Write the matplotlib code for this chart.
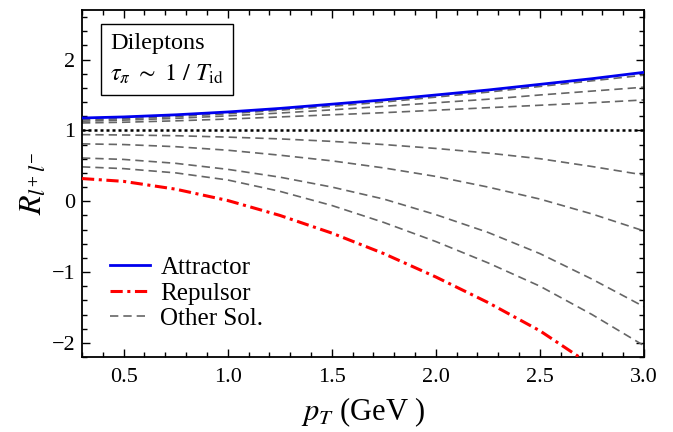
import matplotlib
matplotlib.use("Agg")
import matplotlib.pyplot as plt
from matplotlib.ticker import MultipleLocator

plt.rcParams['font.family'] = ['Liberation Serif', 'DejaVu Serif']
plt.rcParams['mathtext.fontset'] = 'stix'

# Data
pT = [0.3, 0.5, 0.75, 1.0, 1.25, 1.5, 1.75, 2.0, 2.25, 2.5, 2.75, 3.0]

attractor = [1.175, 1.19, 1.22, 1.26, 1.31, 1.37, 1.43, 1.50, 1.57, 1.65, 1.73, 1.82]
repulsor = [0.32, 0.28, 0.17, 0.01, -0.20, -0.45, -0.74, -1.07, -1.43, -1.83, -2.32, -2.95]

other_1 = [1.15, 1.165, 1.195, 1.235, 1.285, 1.34, 1.40, 1.47, 1.54, 1.62, 1.70, 1.78]
other_2 = [1.13, 1.145, 1.17, 1.205, 1.245, 1.29, 1.34, 1.39, 1.44, 1.50, 1.555, 1.61]
other_3 = [1.105, 1.115, 1.135, 1.16, 1.19, 1.22, 1.25, 1.285, 1.32, 1.355, 1.39, 1.43]
other_4 = [0.94, 0.935, 0.925, 0.905, 0.88, 0.845, 0.80, 0.745, 0.68, 0.60, 0.49, 0.37]
other_5 = [0.81, 0.80, 0.77, 0.72, 0.65, 0.57, 0.47, 0.35, 0.20, 0.03, -0.18, -0.42]
other_6 = [0.61, 0.59, 0.535, 0.45, 0.34, 0.20, 0.03, -0.19, -0.44, -0.74, -1.10, -1.49]
other_7 = [0.485, 0.46, 0.40, 0.30, 0.14, -0.06, -0.30, -0.57, -0.87, -1.20, -1.60, -2.04]
others = [other_1, other_2, other_3, other_4, other_5, other_6, other_7]

reference_level = 1.0

fig = plt.figure(figsize=(6.73, 4.32), dpi=100)
ax = fig.add_axes([82/673, 1-357/432, (644-82)/673, (357-10)/432])

gray = '#666666'
for i, ys in enumerate(others):
    ax.plot(pT, ys, color=gray, lw=1.2, ls=(0, (5, 3)),
            label='Other Sol.' if i == 0 else None, zorder=2)
ax.axhline(reference_level, color='black', lw=1.8, ls=(0, (1.2, 1.2)), zorder=3)
ax.plot(pT, repulsor, color='red', lw=2.2, ls=(0, (4, 1.5, 1, 1.5)), label='Repulsor', zorder=4)
ax.plot(pT, attractor, color='#0000ee', lw=2.0, label='Attractor', zorder=5)

ax.set_xlim(0.3, 3.0)
ax.set_ylim(-2.2, 2.7)
ax.xaxis.set_major_locator(MultipleLocator(0.5))
ax.xaxis.set_minor_locator(MultipleLocator(0.1))
ax.yaxis.set_major_locator(MultipleLocator(1))
ax.yaxis.set_minor_locator(MultipleLocator(0.2))
ax.tick_params(which='both', direction='in', top=True, right=True, labelsize=16, width=1.0)
ax.tick_params(which='major', length=6)
ax.tick_params(which='minor', length=3.5)
ax.tick_params(axis='x', pad=8)
ax.tick_params(axis='y', pad=5)
for s in ax.spines.values():
    s.set_linewidth(1.3)

ax.set_xlabel(r'$p_T$ (GeV )', fontsize=22, labelpad=6)
ax.set_ylabel(r'$R_{l^{+}\,l^{-}}$', fontsize=23, labelpad=2)

handles, labels = ax.get_legend_handles_labels()
order = [labels.index('Attractor'), labels.index('Repulsor'), labels.index('Other Sol.')]
ax.legend([handles[i] for i in order], [labels[i] for i in order],
          loc='lower left', bbox_to_anchor=(0.015, 0.02), frameon=False,
          fontsize=18, handlelength=1.6, handletextpad=0.4, labelspacing=0.12,
          borderpad=0.3)

ax.text(0.05, 0.935, 'Dileptons\n' + r'$\tau_\pi\ \sim\ 1\ /\ T_{\rm id}$',
        transform=ax.transAxes, fontsize=17.5, va='top', ha='left', linespacing=1.5,
        bbox=dict(boxstyle='square,pad=0.38', fc='white', ec='black', lw=1.0))

fig.savefig('out.png', dpi=100)
